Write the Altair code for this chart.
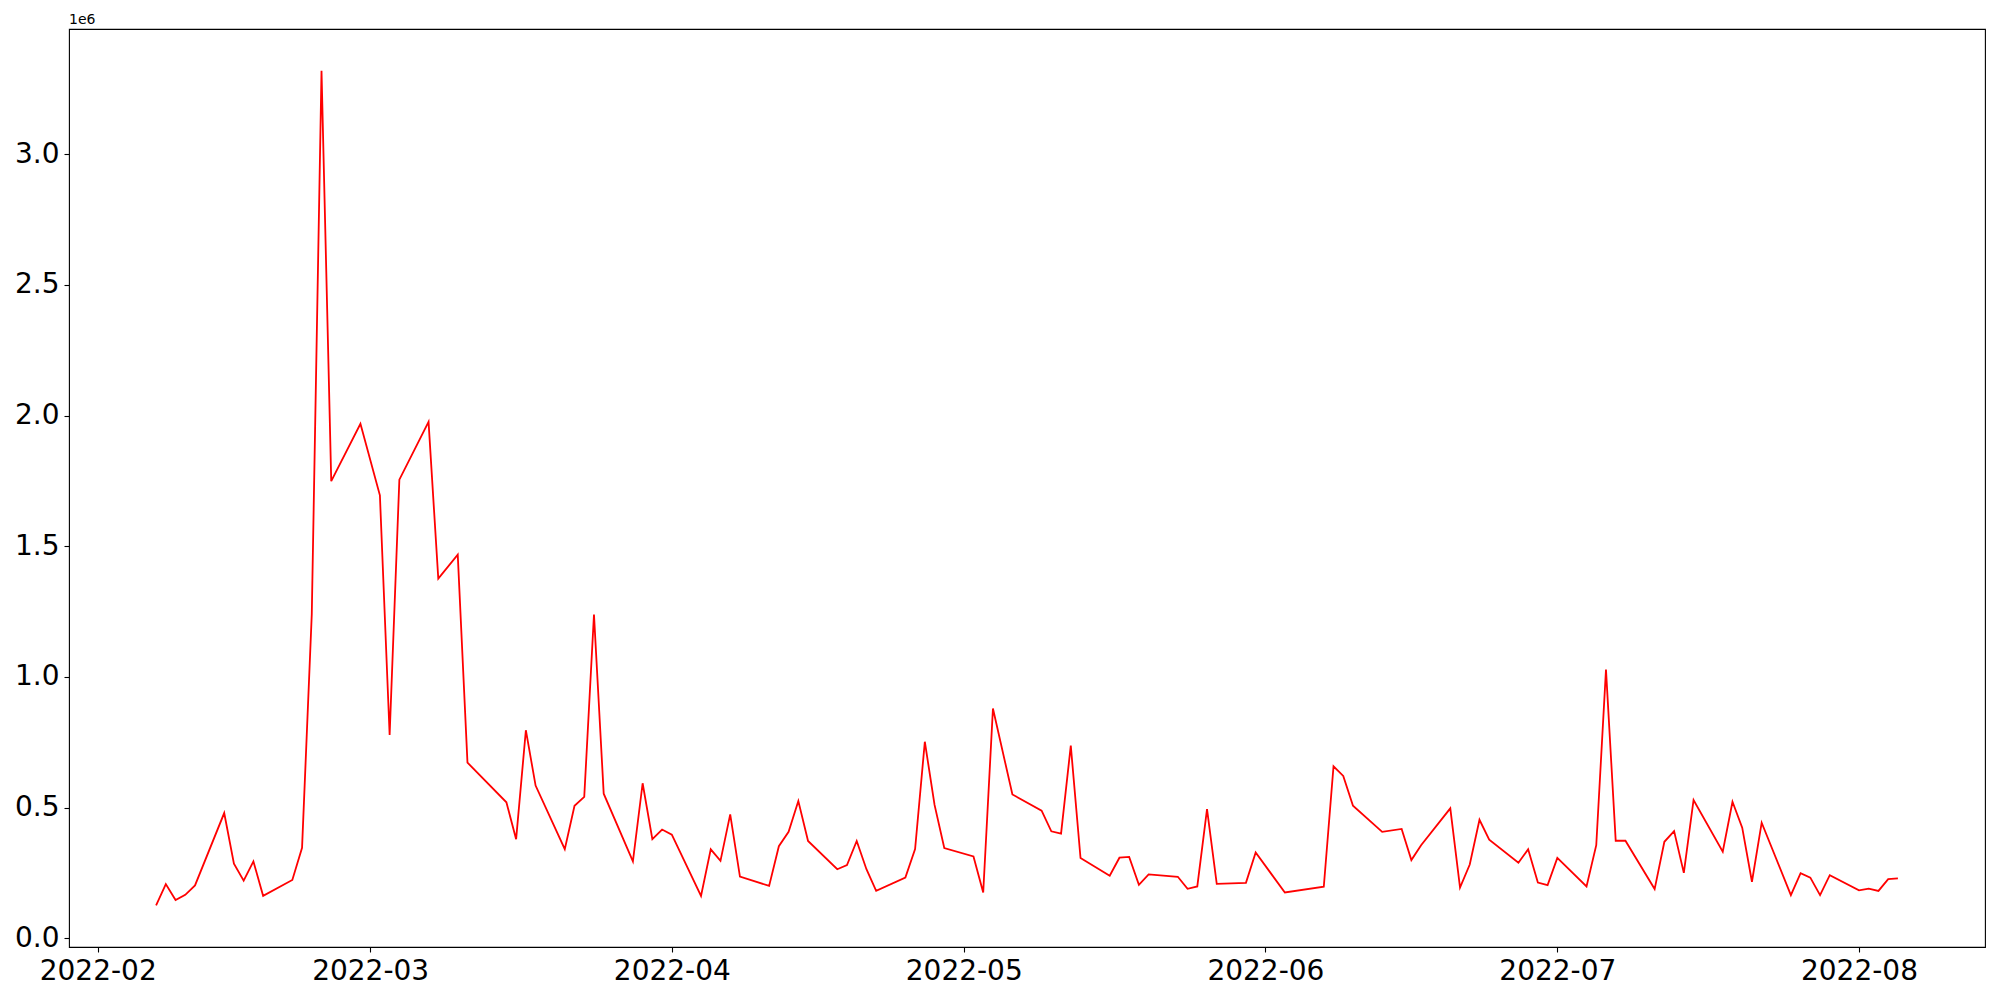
import altair as alt
import pandas as pd

dates = [
    "2022-02-07", "2022-02-08", "2022-02-09", "2022-02-10", "2022-02-11",
    "2022-02-14", "2022-02-15", "2022-02-16", "2022-02-17", "2022-02-18",
    "2022-02-21", "2022-02-22", "2022-02-23", "2022-02-24", "2022-02-25",
    "2022-02-28", "2022-03-02", "2022-03-03", "2022-03-04",
    "2022-03-07", "2022-03-08", "2022-03-10", "2022-03-11",
    "2022-03-15", "2022-03-16", "2022-03-17", "2022-03-18",
    "2022-03-21", "2022-03-22", "2022-03-23", "2022-03-24", "2022-03-25",
    "2022-03-28", "2022-03-29", "2022-03-30", "2022-03-31", "2022-04-01",
    "2022-04-04", "2022-04-05", "2022-04-06", "2022-04-07", "2022-04-08",
    "2022-04-11", "2022-04-12", "2022-04-13", "2022-04-14", "2022-04-15",
    "2022-04-18", "2022-04-19", "2022-04-20", "2022-04-21", "2022-04-22",
    "2022-04-25", "2022-04-26", "2022-04-27", "2022-04-28", "2022-04-29",
    "2022-05-02", "2022-05-03", "2022-05-04", "2022-05-06",
    "2022-05-09", "2022-05-10", "2022-05-11", "2022-05-12", "2022-05-13",
    "2022-05-16", "2022-05-17", "2022-05-18", "2022-05-19", "2022-05-20",
    "2022-05-23", "2022-05-24", "2022-05-25", "2022-05-26", "2022-05-27",
    "2022-05-30", "2022-05-31", "2022-06-03",
    "2022-06-07", "2022-06-08", "2022-06-09", "2022-06-10",
    "2022-06-13", "2022-06-15", "2022-06-16", "2022-06-17",
    "2022-06-20", "2022-06-21", "2022-06-22", "2022-06-23", "2022-06-24",
    "2022-06-27", "2022-06-28", "2022-06-29", "2022-06-30", "2022-07-01",
    "2022-07-04", "2022-07-05", "2022-07-06", "2022-07-07", "2022-07-08",
    "2022-07-11", "2022-07-12", "2022-07-13", "2022-07-14", "2022-07-15",
    "2022-07-18", "2022-07-19", "2022-07-20", "2022-07-21", "2022-07-22",
    "2022-07-25", "2022-07-26", "2022-07-27", "2022-07-28", "2022-07-29",
    "2022-08-01", "2022-08-02", "2022-08-03", "2022-08-04", "2022-08-05",
]

values = [
    126000, 207000, 146000, 166000, 202000,
    479000, 285000, 220000, 294000, 162000,
    223000, 346000, 1241000, 3320000, 1749000,
    1969000, 1695000, 778000, 1755000,
    1976000, 1376000, 1468000, 672000,
    520000, 379000, 796000, 584000,
    341000, 507000, 541000, 1239000, 553000,
    294000, 593000, 379000, 416000, 396000,
    162000, 340000, 296000, 474000, 236000,
    200000, 352000, 407000, 525000, 372000,
    264000, 280000, 372000, 264000, 181000,
    232000, 341000, 752000, 510000, 345000,
    313000, 175000, 879000, 550000,
    488000, 409000, 400000, 737000, 307000,
    239000, 308000, 311000, 204000, 244000,
    235000, 189000, 198000, 494000, 208000,
    212000, 328000, 175000,
    197000, 658000, 621000, 507000,
    407000, 418000, 299000, 356000,
    497000, 194000, 282000, 453000, 377000,
    289000, 340000, 213000, 203000, 307000,
    198000, 356000, 1028000, 373000, 373000,
    188000, 369000, 410000, 250000, 529000,
    331000, 522000, 423000, 216000, 442000,
    165000, 249000, 232000, 165000, 241000,
    183000, 190000, 181000, 226000, 229000,
]

x_tick_labels = ["2022-02", "2022-03", "2022-04", "2022-05", "2022-06", "2022-07", "2022-08"]
y_tick_values = [0, 500000, 1000000, 1500000, 2000000, 2500000, 3000000]

df = pd.DataFrame({"date": dates, "value": values})

# matplotlib-like 5% margins
ts = pd.to_datetime(df["date"]).dt.tz_localize("UTC")
t0, t1 = ts.min(), ts.max()
span = t1 - t0
xmin = int((t0 - 0.05 * span).value // 10**6)
xmax = int((t1 + 0.05 * span).value // 10**6)
vmin, vmax = min(values), max(values)
vr = vmax - vmin
ymin, ymax = vmin - 0.05 * vr, vmax + 0.05 * vr

x_tick_ms = [int(pd.Timestamp(s + "-01", tz="UTC").value // 10**6) for s in x_tick_labels]

FONT = "DejaVu Sans"

line = alt.Chart(df).mark_line(color="#ff0000", strokeWidth=1.8, clip=True).encode(
    x=alt.X(
        "date:T",
        scale=alt.Scale(type="utc", domain=[xmin, xmax], nice=False),
        axis=alt.Axis(
            values=x_tick_ms,
            labelExpr="utcFormat(datum.value, '%Y-%m')",
            title=None,
            grid=False,
            domain=False,
            labelAngle=0,
            labelFont=FONT,
            labelFontSize=28,
            labelColor="#000000",
            labelPadding=5,
            labelOverlap=False,
            labelFlush=False,
            tickSize=5,
            tickWidth=1.1,
            tickColor="#000000",
        ),
    ),
    y=alt.Y(
        "value:Q",
        scale=alt.Scale(domain=[ymin, ymax], nice=False, zero=False),
        axis=alt.Axis(
            values=y_tick_values,
            labelExpr="format(datum.value / 1000000, '.1f')",
            title=None,
            grid=False,
            domain=False,
            labelFont=FONT,
            labelFontSize=28,
            labelColor="#000000",
            labelPadding=5,
            labelOverlap=False,
            labelFlush=False,
            tickSize=5,
            tickWidth=1.1,
            tickColor="#000000",
        ),
    ),
)

offset = alt.Chart(pd.DataFrame({"t": ["1e6"]})).mark_text(
    align="left", baseline="alphabetic", font=FONT, fontSize=14, color="#000000"
).encode(x=alt.value(0), y=alt.value(-5), text="t:N")

chart = (
    alt.layer(line, offset)
    .properties(
        width=1916,
        height=918,
        autosize=alt.AutoSizeParams(type="none"),
        padding={"left": 61, "top": 21, "right": 7, "bottom": 45},
        background="white",
    )
    .configure_view(stroke="#000000", strokeWidth=1.1)
)

chart.save("out.html", embed_options={"renderer": "svg", "actions": False})
